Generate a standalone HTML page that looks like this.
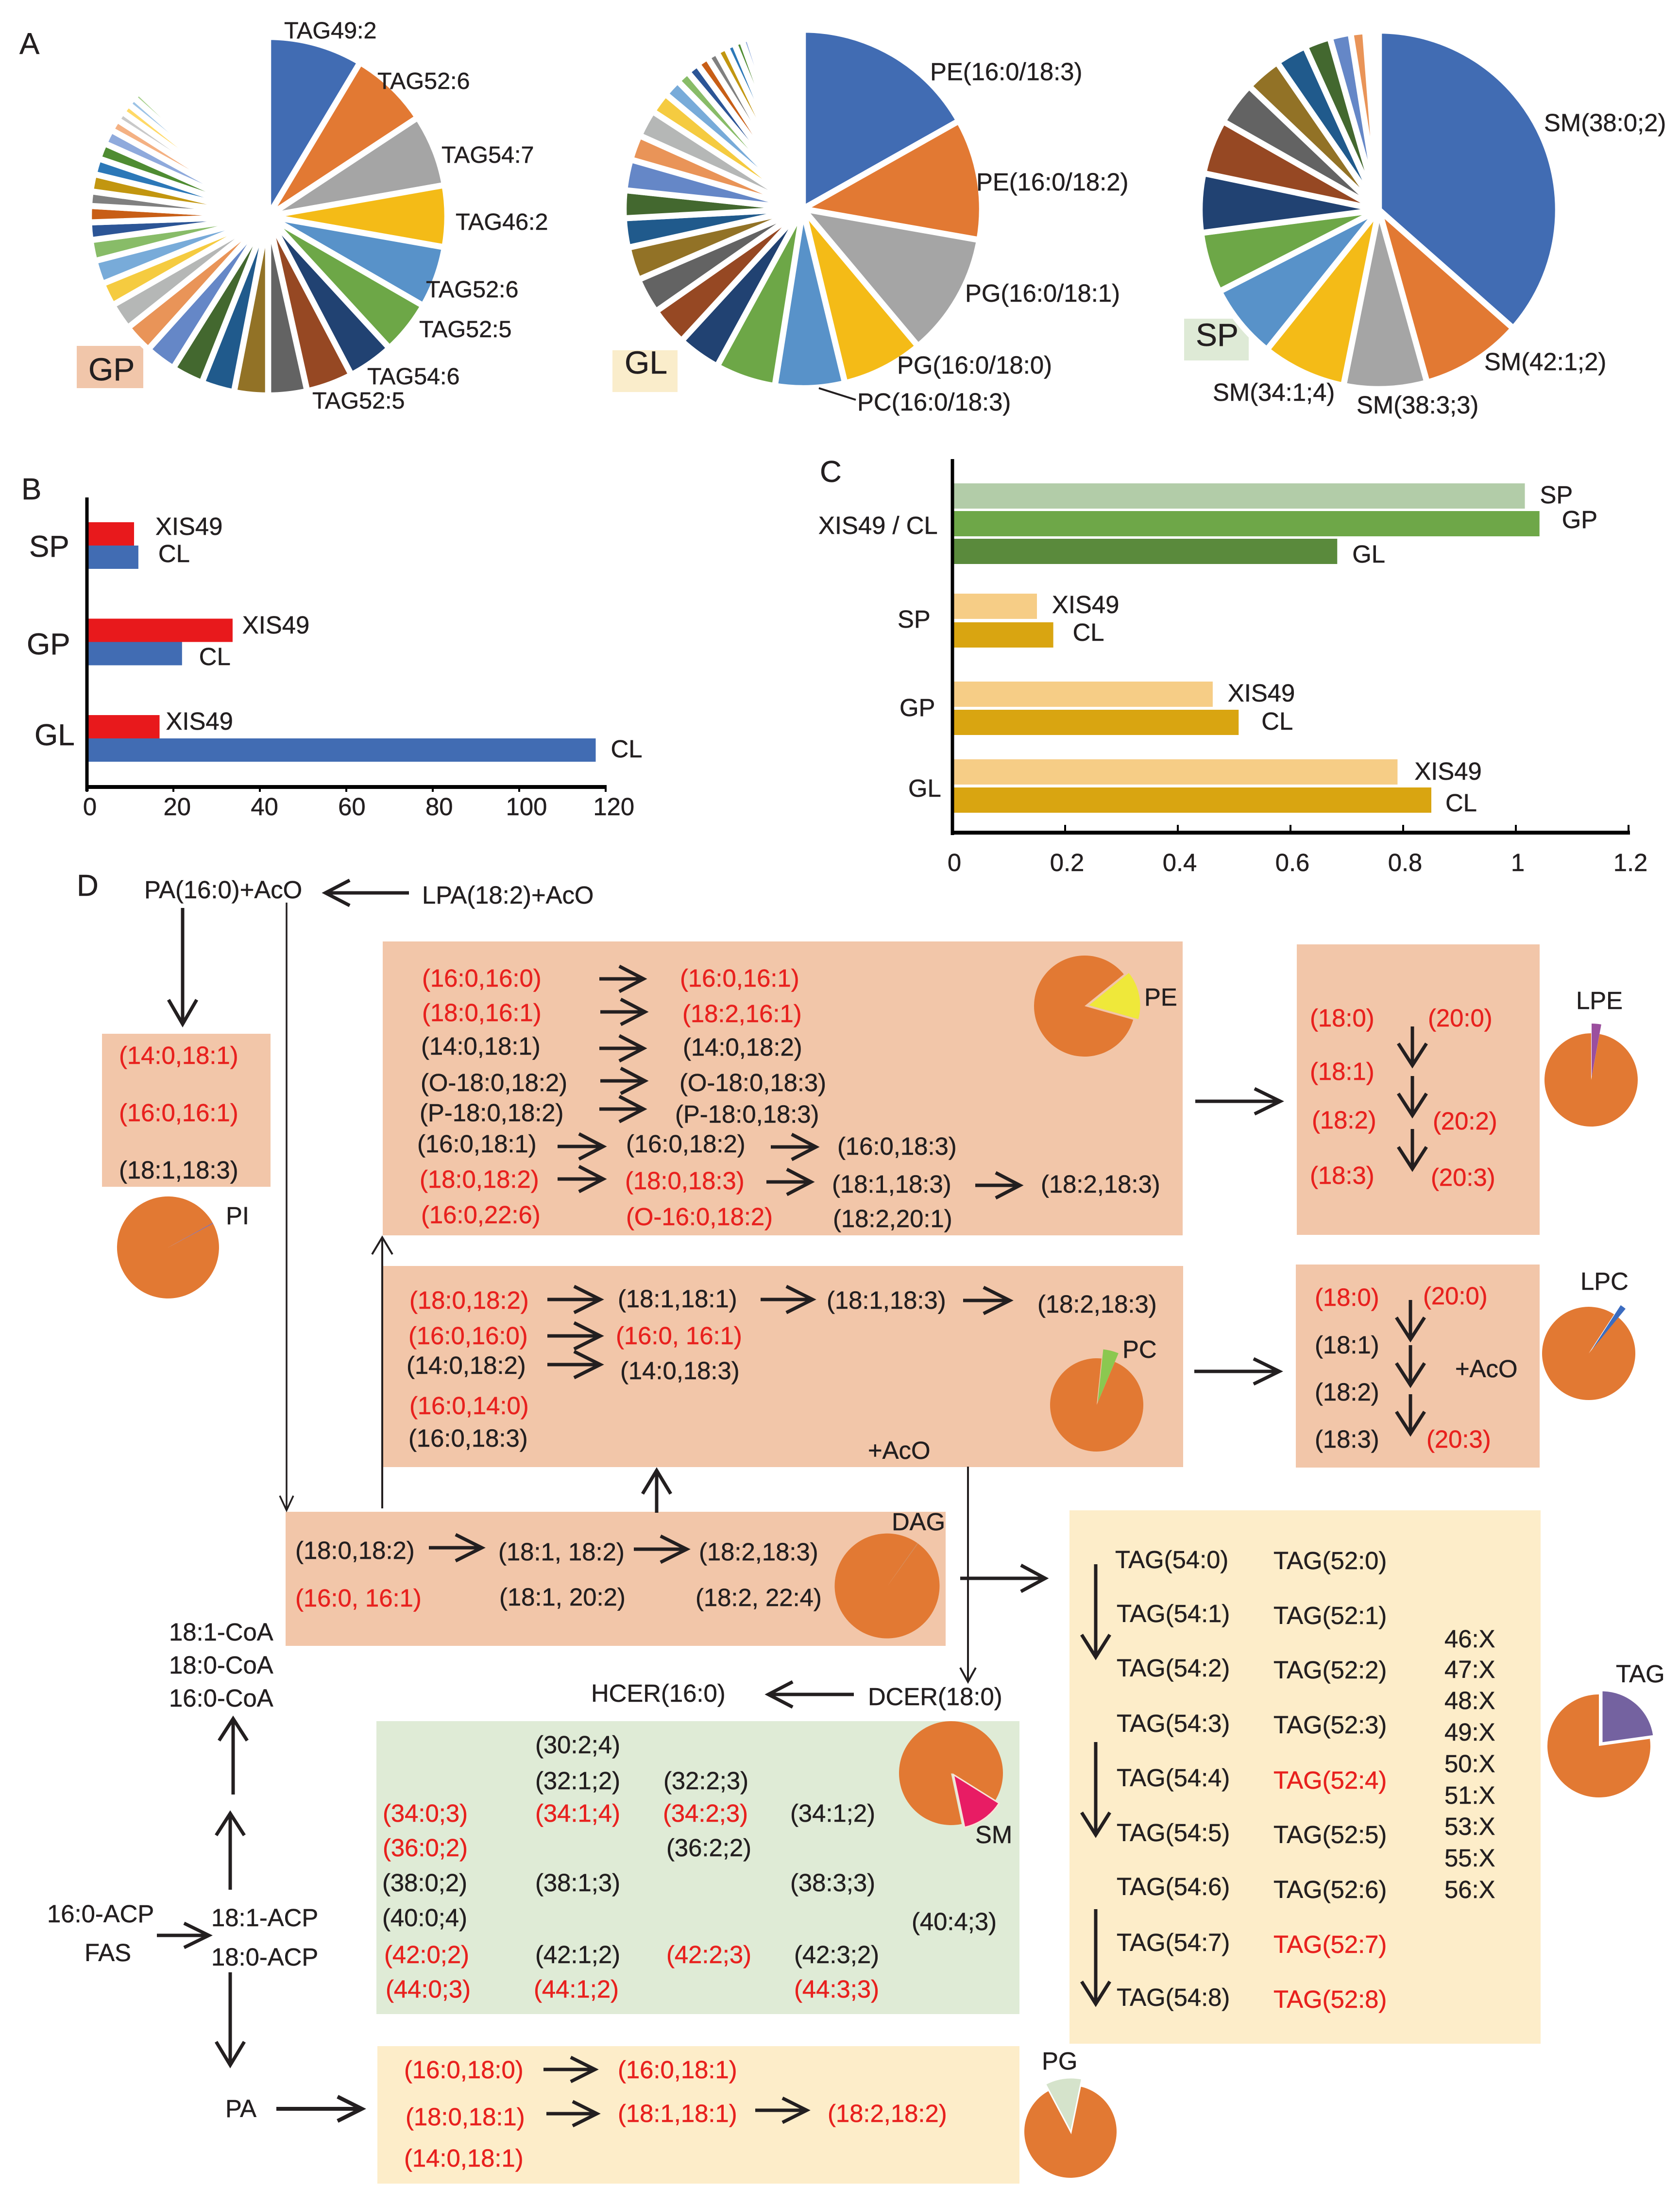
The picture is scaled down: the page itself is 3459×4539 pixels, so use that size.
<!DOCTYPE html>
<html lang="en">
<head>
<meta charset="utf-8">
<title>Lipid composition and pathway figure</title>
<style>
html,body{margin:0;padding:0;background:#fff}
svg{display:block;font-family:"Liberation Sans",Arial,sans-serif}
text{font-size:50.8px;fill:#231F20;stroke:#231F20;stroke-width:.5px}
.r{fill:#E8211E;stroke:#E8211E}
.p{font-size:62px}
.t{font-size:66px}
</style>
</head>
<body>
<svg id="fig" xmlns="http://www.w3.org/2000/svg" width="3459" height="4539" viewBox="0 0 3459 4539">
<rect x="0" y="0" width="3459" height="4539" fill="#fff"/>

<!-- Panel A boxes -->
<rect x="158" y="712" width="137" height="87" fill="#F1C6AA"/>
<rect x="1261" y="721" width="134" height="86" fill="#FAEDCB"/>
<rect x="2438" y="656" width="133" height="86" fill="#DEEAD6"/>

<g id="pieA"></g>

<text class="p" x="40" y="111">A</text>
<text class="t" x="182" y="783">GP</text>
<text class="t" x="1286" y="769">GL</text>
<text class="t" x="2462" y="712">SP</text>

<text x="585" y="79" style="font-size:48.5px">TAG49:2</text>
<text x="777" y="183" style="font-size:48.5px">TAG52:6</text>
<text x="909" y="335" style="font-size:48.5px">TAG54:7</text>
<text x="938" y="473" style="font-size:48.5px">TAG46:2</text>
<text x="877" y="612" style="font-size:48.5px">TAG52:6</text>
<text x="863" y="694" style="font-size:48.5px">TAG52:5</text>
<text x="756" y="791" style="font-size:48.5px">TAG54:6</text>
<text x="643" y="841" style="font-size:48.5px">TAG52:5</text>

<text x="1915" y="165">PE(16:0/18:3)</text>
<text x="2010" y="392">PE(16:0/18:2)</text>
<text x="1987" y="621">PG(16:0/18:1)</text>
<text x="1847" y="769">PG(16:0/18:0)</text>
<text x="1765" y="845">PC(16:0/18:3)</text>
<line x1="1686" y1="799" x2="1762" y2="823" stroke="#231F20" stroke-width="4"/>

<text x="3179" y="270">SM(38:0;2)</text>
<text x="3056" y="762">SM(42:1;2)</text>
<text x="2793" y="851">SM(38:3;3)</text>
<text x="2497" y="825">SM(34:1;4)</text>

<!-- Panels B and C -->
<text class="p" x="44" y="1028">B</text>
<text class="p" x="1688" y="992">C</text>
<g id="chartB"></g>
<g id="chartC"></g>

<!-- Panel D boxes -->
<g>
<rect x="210" y="2128" width="347" height="315" fill="#F2C6A9"/>
<rect x="788" y="1938" width="1647" height="605" fill="#F2C6A9"/>
<rect x="2670" y="1944" width="500" height="598" fill="#F2C6A9"/>
<rect x="789" y="2606" width="1647" height="414" fill="#F2C6A9"/>
<rect x="2668" y="2603" width="502" height="418" fill="#F2C6A9"/>
<rect x="588" y="3112" width="1359" height="276" fill="#F2C6A9"/>
<rect x="775" y="3543" width="1324" height="603" fill="#DFEBD6"/>
<rect x="777" y="4212" width="1322" height="283" fill="#FDEDC9"/>
<rect x="2202" y="3109" width="970" height="1098" fill="#FDEDC9"/>
</g>

<g id="smallPies"></g>
<g id="arrows"></g>

<text class="p" x="158" y="1844">D</text>
<text x="297" y="1849">PA(16:0)+AcO</text>
<text x="869" y="1860">LPA(18:2)+AcO</text>

<!-- PI -->
<text class="r" x="245" y="2190">(14:0,18:1)</text>
<text class="r" x="245" y="2308">(16:0,16:1)</text>
<text x="245" y="2426">(18:1,18:3)</text>
<text x="465" y="2520">PI</text>

<!-- PE -->
<text class="r" x="869" y="2031">(16:0,16:0)</text>
<text class="r" x="869" y="2102">(18:0,16:1)</text>
<text x="867" y="2171">(14:0,18:1)</text>
<text x="866" y="2246">(O-18:0,18:2)</text>
<text x="864" y="2308">(P-18:0,18:2)</text>
<text x="859" y="2372">(16:0,18:1)</text>
<text class="r" x="864" y="2445">(18:0,18:2)</text>
<text class="r" x="867" y="2518">(16:0,22:6)</text>
<text class="r" x="1400" y="2031">(16:0,16:1)</text>
<text class="r" x="1405" y="2104">(18:2,16:1)</text>
<text x="1406" y="2173">(14:0,18:2)</text>
<text x="1399" y="2246">(O-18:0,18:3)</text>
<text x="1390" y="2311">(P-18:0,18:3)</text>
<text x="1289" y="2372">(16:0,18:2)</text>
<text class="r" x="1287" y="2448">(18:0,18:3)</text>
<text class="r" x="1289" y="2522">(O-16:0,18:2)</text>
<text x="1724" y="2377">(16:0,18:3)</text>
<text x="1713" y="2455">(18:1,18:3)</text>
<text x="1715" y="2526">(18:2,20:1)</text>
<text x="2143" y="2455">(18:2,18:3)</text>
<text x="2356" y="2070">PE</text>

<!-- LPE -->
<text class="r" x="2697" y="2113">(18:0)</text>
<text class="r" x="2697" y="2223">(18:1)</text>
<text class="r" x="2701" y="2323">(18:2)</text>
<text class="r" x="2697" y="2437">(18:3)</text>
<text class="r" x="2940" y="2113">(20:0)</text>
<text class="r" x="2950" y="2325">(20:2)</text>
<text class="r" x="2946" y="2441">(20:3)</text>
<text x="3245" y="2077">LPE</text>

<!-- PC -->
<text class="r" x="843" y="2694">(18:0,18:2)</text>
<text x="1272" y="2691">(18:1,18:1)</text>
<text x="1702" y="2694">(18:1,18:3)</text>
<text x="2136" y="2702">(18:2,18:3)</text>
<text class="r" x="841" y="2767">(16:0,16:0)</text>
<text class="r" x="1268" y="2767">(16:0, 16:1)</text>
<text x="837" y="2828">(14:0,18:2)</text>
<text x="1277" y="2839">(14:0,18:3)</text>
<text class="r" x="843" y="2911">(16:0,14:0)</text>
<text x="841" y="2978">(16:0,18:3)</text>
<text x="1787" y="3003">+AcO</text>
<text x="2311" y="2795">PC</text>

<!-- LPC -->
<text class="r" x="2707" y="2688">(18:0)</text>
<text x="2707" y="2786">(18:1)</text>
<text x="2707" y="2883">(18:2)</text>
<text x="2707" y="2980">(18:3)</text>
<text class="r" x="2930" y="2685">(20:0)</text>
<text class="r" x="2937" y="2980">(20:3)</text>
<text x="2996" y="2835">+AcO</text>
<text x="3254" y="2655">LPC</text>

<!-- DAG -->
<text x="608" y="3209">(18:0,18:2)</text>
<text x="1026" y="3212">(18:1, 18:2)</text>
<text x="1439" y="3212">(18:2,18:3)</text>
<text class="r" x="608" y="3307">(16:0, 16:1)</text>
<text x="1028" y="3305">(18:1, 20:2)</text>
<text x="1432" y="3306">(18:2, 22:4)</text>
<text x="1836" y="3150">DAG</text>

<!-- Ceramide -->
<text x="1217" y="3503">HCER(16:0)</text>
<text x="1787" y="3510">DCER(18:0)</text>

<!-- SM -->
<text x="1102" y="3609">(30:2;4)</text>
<text x="1102" y="3683">(32:1;2)</text>
<text x="1366" y="3683">(32:2;3)</text>
<text class="r" x="788" y="3750">(34:0;3)</text>
<text class="r" x="1102" y="3750">(34:1;4)</text>
<text class="r" x="1365" y="3750">(34:2;3)</text>
<text x="1627" y="3750">(34:1;2)</text>
<text class="r" x="788" y="3821">(36:0;2)</text>
<text x="1372" y="3821">(36:2;2)</text>
<text x="787" y="3893">(38:0;2)</text>
<text x="1102" y="3893">(38:1;3)</text>
<text x="1627" y="3893">(38:3;3)</text>
<text x="787" y="3965">(40:0;4)</text>
<text x="1877" y="3973">(40:4;3)</text>
<text class="r" x="791" y="4041">(42:0;2)</text>
<text x="1102" y="4041">(42:1;2)</text>
<text class="r" x="1372" y="4041">(42:2;3)</text>
<text x="1635" y="4041">(42:3;2)</text>
<text class="r" x="794" y="4112">(44:0;3)</text>
<text class="r" x="1099" y="4112">(44:1;2)</text>
<text class="r" x="1635" y="4112">(44:3;3)</text>
<text x="2008" y="3794">SM</text>

<!-- Left column -->
<text x="348" y="3377">18:1-CoA</text>
<text x="348" y="3445">18:0-CoA</text>
<text x="348" y="3513">16:0-CoA</text>
<text x="97" y="3957">16:0-ACP</text>
<text x="174" y="4037">FAS</text>
<text x="435" y="3965">18:1-ACP</text>
<text x="435" y="4046">18:0-ACP</text>
<text x="464" y="4358">PA</text>

<!-- PG -->
<text class="r" x="832" y="4278">(16:0,18:0)</text>
<text class="r" x="1272" y="4278">(16:0,18:1)</text>
<text class="r" x="835" y="4375">(18:0,18:1)</text>
<text class="r" x="1272" y="4368">(18:1,18:1)</text>
<text class="r" x="1704" y="4368">(18:2,18:2)</text>
<text class="r" x="832" y="4460">(14:0,18:1)</text>
<text x="2145" y="4260">PG</text>

<!-- TAG -->
<text x="2296" y="3228">TAG(54:0)</text>
<text x="2299" y="3339">TAG(54:1)</text>
<text x="2299" y="3451">TAG(54:2)</text>
<text x="2299" y="3565">TAG(54:3)</text>
<text x="2299" y="3677">TAG(54:4)</text>
<text x="2299" y="3790">TAG(54:5)</text>
<text x="2299" y="3901">TAG(54:6)</text>
<text x="2299" y="4016">TAG(54:7)</text>
<text x="2299" y="4129">TAG(54:8)</text>
<text x="2622" y="3230">TAG(52:0)</text>
<text x="2622" y="3343">TAG(52:1)</text>
<text x="2622" y="3455">TAG(52:2)</text>
<text x="2622" y="3568">TAG(52:3)</text>
<text class="r" x="2622" y="3682">TAG(52:4)</text>
<text x="2622" y="3794">TAG(52:5)</text>
<text x="2622" y="3907">TAG(52:6)</text>
<text class="r" x="2622" y="4020">TAG(52:7)</text>
<text class="r" x="2622" y="4133">TAG(52:8)</text>
<text x="2974" y="3391">46:X</text>
<text x="2974" y="3454">47:X</text>
<text x="2974" y="3518">48:X</text>
<text x="2974" y="3583">49:X</text>
<text x="2974" y="3648">50:X</text>
<text x="2974" y="3713">51:X</text>
<text x="2974" y="3777">53:X</text>
<text x="2974" y="3842">55:X</text>
<text x="2974" y="3907">56:X</text>
<text x="3327" y="3463">TAG</text>
</svg>

<script>
// ---- Panel A: slice shares (degrees of the circle; last entry is the unlabelled remainder)
const gpShares = [30.9,25.7,23.4,20,20,17.4,14.9,15.1,12.6,11,10.7,10.3,10,9.5,8.7,7.6,7.7,6.8,5.7,5.3,4.7,5.6,5.2,5.2,4.8,3.8,3,3.1,2.7,2.4,1.5,44.7];
const glShares = [60.6,39.4,40,26.4,22.6,19.6,14,12.5,11.6,10.8,9.5,9,10,8.2,8.8,6.9,5.7,4.3,4,3.9,3.4,3.4,2.9,2.6,2.3,17.6];
const spShares = [131.4,33,27,27.3,24.2,19.7,19.2,17.8,14,11.8,10.3,8.4,6.8,4.7,4.4];
// ---- Panel B
const bCategories = ['SP','GP','GL'];
const bXis49 = [10.9,33.7,16.8];
const bCl = [11.9,22,117.7];
const bTicks = [0,20,40,60,80,100,120];
// ---- Panel C
const cRatioNames = ['SP','GP','GL'];
const cRatio = [1.016,1.042,0.683];
const cCategories = ['SP','GP','GL'];
const cXis49 = [0.15,0.462,0.79];
const cCl = [0.179,0.508,0.85];
const cTicks = [0,0.2,0.4,0.6,0.8,1,1.2];
// ---- Panel D class pies: share of the minor slice, percent
const classNames = ['PI','PE','PC','LPE','LPC','DAG','SM','TAG','PG'];
const classMinorShare = [0.3,15.2,4.7,2.9,1.8,0.2,12.8,22.8,11];

const NS = 'http://www.w3.org/2000/svg';
const palette = ['#416CB3','#E27933','#A5A5A5','#F4BB17','#5892C9','#6DA747','#214272','#964823','#636363','#927226','#205A8C','#43682F','#6587C7','#E99458','#B5B7B6','#F5CB40','#78ABD9','#88BC68','#2C5596','#C85E16','#808080','#C29610','#2C78B8','#4F8C32','#8FAADC','#F4B183','#C9C9C9','#FFD966','#9DC3E6','#A9D18E','#2F3F6F'];

function make(tag, parent, attrs) {
  const el = document.createElementNS(NS, tag);
  for (const k in attrs) el.setAttribute(k, attrs[k]);
  parent.appendChild(el);
  return el;
}
function polar(cx, cy, r, deg) {
  const a = deg * Math.PI / 180;
  return [cx + r * Math.sin(a), cy - r * Math.cos(a)];
}
function sliceD(cx, cy, r, a0, a1) {
  const p0 = polar(cx, cy, r, a0), p1 = polar(cx, cy, r, a1);
  const large = (a1 - a0) > 180 ? 1 : 0;
  return 'M' + cx + ' ' + cy + 'L' + p0[0].toFixed(2) + ' ' + p0[1].toFixed(2) +
    'A' + r + ' ' + r + ' 0 ' + large + ' 1 ' + p1[0].toFixed(2) + ' ' + p1[1].toFixed(2) + 'Z';
}

// Panel A pies: every entry but the last is painted; the last is the blank remainder.
function drawBigPie(values, cx, cy, r, group, name) {
  const total = values.reduce(function (s, v) { return s + v; }, 0);
  let acc = 0;
  values.forEach(function (v, i) {
    const a0 = acc / total * 360;
    acc += v;
    const a1 = acc / total * 360;
    if (i === values.length - 1) return;
    const p = make('path', group, {d: sliceD(cx, cy, r, a0, a1), fill: palette[i % palette.length], stroke: '#fff', 'stroke-width': 12.5});
    
    
  });
}
const pieA = document.getElementById('pieA');
drawBigPie(gpShares, 552, 445, 369, pieA, 'gp');
drawBigPie(glShares, 1653, 430, 369, pieA, 'gl');
drawBigPie(spShares, 2839, 432, 369, pieA, 'sp');

// Panel B
const gB = document.getElementById('chartB');
function bx(v) { return 179 + v * 8.9; }
function by(i) { return 1075 + i * 198.5; }
function bTickLabelX(v) { return 185 + v * 8.99; }
const bXisGap = [44,20,13];
const bClGap = [41,35,31];
const bCatX = [60,55,71];
const bCatY = [1146,1347,1534];
const bXisTextY = [1101,1304,1502];
const bClTextY = [1157,1369,1559];
bCategories.forEach(function (c, i) {
  const red = make('rect', gB, {x: bx(0), y: by(i), width: bx(bXis49[i]) - bx(0), height: 48, fill: '#E8191C'});
  
  
  const blue = make('rect', gB, {x: bx(0), y: by(i) + 48, width: bx(bCl[i]) - bx(0), height: 48, fill: '#416CB3'});
  
  
  const t1 = make('text', gB, {x: bx(bXis49[i]) + bXisGap[i], y: bXisTextY[i]});
  t1.textContent = 'XIS49';
  
  
  const t2 = make('text', gB, {x: bx(bCl[i]) + bClGap[i], y: bClTextY[i]});
  t2.textContent = 'CL';
  
  
  const t3 = make('text', gB, {x: bCatX[i], y: bCatY[i], style: 'font-size:62px'});
  t3.textContent = c;
  
  
});
const bYAxis = make('line', gB, {x1: 179, y1: 1024, x2: 179, y2: 1629, stroke: '#000', 'stroke-width': 7});


const bXAxis = make('line', gB, {x1: 176, y1: 1620, x2: bx(120) + 2, y2: 1620, stroke: '#000', 'stroke-width': 8});


bTicks.forEach(function (t) {
  const tick = make('line', gB, {x1: bx(t), y1: 1620, x2: bx(t), y2: 1630, stroke: '#000', 'stroke-width': 4});
  
  
  const label = make('text', gB, {x: bTickLabelX(t), y: 1678, 'text-anchor': 'middle'});
  label.textContent = String(t);
  
  
});

// Panel C
const gC = document.getElementById('chartC');
function cx_(v) { return 1961 + v * 1160; }
const ratioTop = [995,1052,1109];
const ratioColor = ['#B2CCA8','#6EA748','#5A8A3C'];
const ratioGap = [31,46,31];
const ratioTextY = [1036,1087,1158];
cRatio.forEach(function (v, i) {
  const bar = make('rect', gC, {x: cx_(0), y: ratioTop[i], width: cx_(v) - cx_(0), height: 52, fill: ratioColor[i]});
  
  
  const t = make('text', gC, {x: cx_(v) + ratioGap[i], y: ratioTextY[i]});
  t.textContent = cRatioNames[i];
  
  
});
const ratioCat = make('text', gC, {x: 1685, y: 1099});
ratioCat.textContent = 'XIS49 / CL';


const pairTop = [1222,1403,1563];
const pairGap = [59,58,58];
const cXisGap = [31,31,35];
const cClGap = [40,47,29];
const cXisTextY = [1262,1444,1605];
const cClTextY = [1319,1502,1670];
const cCatX = [1848,1852,1870];
const cCatY = [1292,1474,1640];
cCategories.forEach(function (c, i) {
  const a = make('rect', gC, {x: cx_(0), y: pairTop[i], width: cx_(cXis49[i]) - cx_(0), height: 52, fill: '#F6CD86'});
  
  
  const b = make('rect', gC, {x: cx_(0), y: pairTop[i] + pairGap[i], width: cx_(cCl[i]) - cx_(0), height: 52, fill: '#D9A511'});
  
  
  const t1 = make('text', gC, {x: cx_(cXis49[i]) + cXisGap[i], y: cXisTextY[i]});
  t1.textContent = 'XIS49';
  
  
  const t2 = make('text', gC, {x: cx_(cCl[i]) + cClGap[i], y: cClTextY[i]});
  t2.textContent = 'CL';
  
  
  const t3 = make('text', gC, {x: cCatX[i], y: cCatY[i]});
  t3.textContent = c;
  
  
});
const cYAxis = make('line', gC, {x1: 1961, y1: 945, x2: 1961, y2: 1719, stroke: '#000', 'stroke-width': 7});


const cXAxis = make('line', gC, {x1: 1958, y1: 1714, x2: cx_(1.2) + 3, y2: 1714, stroke: '#000', 'stroke-width': 8});


cTicks.forEach(function (t) {
  const tick = make('line', gC, {x1: cx_(t), y1: 1698, x2: cx_(t), y2: 1714, stroke: '#000', 'stroke-width': 4});
  
  
  const label = make('text', gC, {x: cx_(t) + 4, y: 1793, 'text-anchor': 'middle'});
  label.textContent = String(t);
  
  
});

// Panel D class pies
const classCenter = [[346,2568,105],[2233,2071,104],[2258,2892,96],[3276,2223,96],[3271,2786,96],[1827,3265,108],[1958,3650,107],[3292,3594,106],[2204,4388,95]];
const classVertex = [[346,2568,105],[2239,2070,110],[2260,2887,110],[3277,2217,110],[3277,2779,110],[1827,3265,108],[1963,3653,111],[3298,3588,108],[2205,4389,112]];
const classStart = [61,51,6,0,33,35,122,0,332];
const classColor = ['#8A6A9A','#EFE83A','#8BC850','#9B4F9E','#3B6CC0','#CF8A5A','#E81C64','#7462A0','#D5E3CB'];
const classEdge = ['none','#F2C6A9','none','none','none','none','#F8E4D8','#fff','#fff'];
const gS = document.getElementById('smallPies');
classNames.forEach(function (n, i) {
  const c = classCenter[i], m = classVertex[i];
  const sweep = classMinorShare[i] * 3.6;
  const a0 = classStart[i];
  const main = make('path', gS, {d: sliceD(c[0], c[1], c[2], a0 + sweep, a0 + 360), fill: '#E27933'});
  
  
  const minor = make('path', gS, {d: sliceD(m[0], m[1], m[2], a0, a0 + sweep), fill: classColor[i], stroke: classEdge[i], 'stroke-width': 3});
  
  
});

// Pathway arrows: x1,y1,x2,y2,width,head length,head half-spread
const arrowList = [
  [842,1838,670,1838,7,50,26],[376,1869,376,2108,7,50,29],[590,1858,590,3109,3.5,30,14],
  [1234,2015,1325,2015,7,50,26],[1236,2083,1328,2083,7,50,26],[1234,2158,1325,2158,7,50,26],[1236,2225,1328,2225,7,50,26],[1234,2283,1325,2283,7,50,26],
  [1148,2360,1242,2360,7,50,26],[1148,2427,1242,2427,7,50,26],[1587,2361,1680,2361,7,50,26],[1578,2433,1670,2433,7,50,26],[2008,2440,2100,2440,7,50,26],
  [2461,2267,2636,2267,7,53,26],[2459,2823,2634,2823,7,53,26],
  [1127,2675,1236,2675,7,54,27],[1566,2675,1673,2675,7,54,27],[1983,2677,2079,2677,7,54,27],[1127,2750,1236,2750,7,54,27],[1127,2809,1236,2809,7,54,27],
  [787,3105,787,2547,4,35,21],[1352,3114,1352,3027,7,48,29],
  [883,3186,992,3186,7,54,27],[1305,3189,1414,3189,7,54,27],
  [1993,3019,1993,3462,4,29,16],[1977,3249,2152,3249,7,50,27],[1758,3488,1582,3488,7,50,26],
  [480,3694,480,3538,7,45,29],[474,3890,474,3733,7,45,29],[323,3984,430,3984,7,51,25],[474,4060,474,4251,7,48,29],
  [569,4341,745,4341,8,50,25],
  [1119,4260,1225,4260,7,50,25],[1125,4351,1229,4351,7,50,25],[1555,4344,1661,4344,7,50,25],
  [2256,3220,2256,3411,7,46,29],[2256,3586,2256,3777,7,46,29],[2256,3930,2256,4125,7,46,29],
  [2908,2113,2908,2193,7,45,29],[2908,2215,2908,2296,7,45,29],[2908,2324,2908,2406,7,45,29],
  [2904,2676,2904,2757,7,45,29],[2904,2769,2904,2851,7,45,29],[2904,2870,2904,2951,7,45,29]
];
const gArrows = document.getElementById('arrows');
arrowList.forEach(function (a) {
  const dx = a[2] - a[0], dy = a[3] - a[1], len = Math.hypot(dx, dy);
  const ux = dx / len, uy = dy / len;
  const bx0 = a[2] - ux * a[5], by0 = a[3] - uy * a[5];
  const d = 'M' + a[0] + ' ' + a[1] + 'L' + a[2] + ' ' + a[3] +
    'M' + (bx0 - uy * a[6]) + ' ' + (by0 + ux * a[6]) + 'L' + a[2] + ' ' + a[3] + 'L' + (bx0 + uy * a[6]) + ' ' + (by0 - ux * a[6]);
  const p = make('path', gArrows, {d: d, fill: 'none', stroke: '#231F20', 'stroke-width': a[4]});
  
  
});
</script>
</body>
</html>
